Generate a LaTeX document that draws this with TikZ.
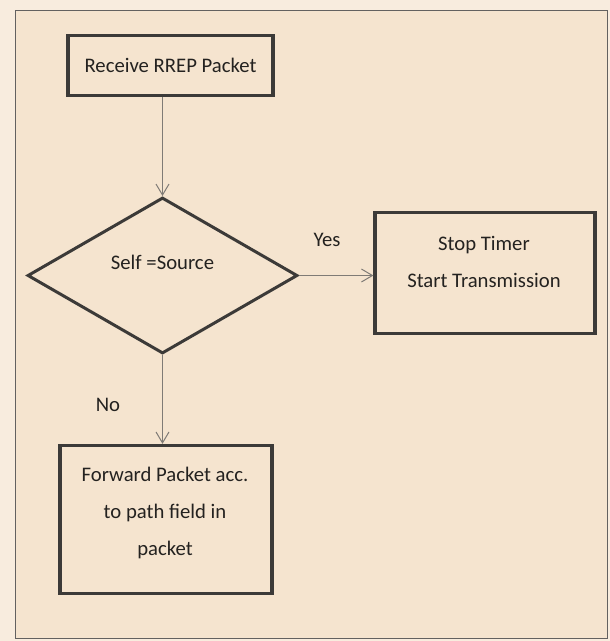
\documentclass[tikz,border=0pt]{standalone}
\usepackage{fontspec}
\setmainfont{Carlito}
\usetikzlibrary{shapes.geometric,arrows.meta}
\definecolor{bg}{HTML}{F5E4CF}
\definecolor{outerbg}{HTML}{F8ECDE}
\definecolor{boxline}{HTML}{3C3A38}
\definecolor{arrline}{HTML}{7F7B76}
\definecolor{txt}{HTML}{242220}
\tikzset{
  procbox/.style={draw=boxline, line width=3.2pt, fill=bg, align=center, text=txt, font=\fontsize{20.7}{37}\selectfont, inner sep=0pt},
  decision/.style={diamond, draw=boxline, line width=3pt, fill=bg, inner sep=0pt, minimum width=270pt, minimum height=156pt, aspect=1.73},
  flow/.style={draw=arrline, line width=1pt, -{Straight Barb[length=11pt,width=13pt,line width=1pt]}},
  lbl/.style={text=txt, font=\fontsize{20.7}{24}\selectfont, inner sep=0pt}
}
\begin{document}
\begin{tikzpicture}[x=1pt,y=-1pt]
\useasboundingbox (0,0) rectangle (610,641);
\fill[outerbg] (0,0) rectangle (610,641);
\draw[draw=boxline!80, line width=1pt, fill=bg] (15.5,10) rectangle (607,638);
\node[procbox, minimum width=205pt, minimum height=60pt] (recv) at (170.5,65.5) {Receive RREP Packet};
\node[decision] (dec) at (162.5,275.5) {};
\node[lbl] (dectxt) at (162.5,262.5) {Self =Source};
\node[procbox, minimum width=220pt, minimum height=121pt] (stop) at (485,273) {};
\node[lbl, align=center, font=\fontsize{20.7}{37}\selectfont] (stoptxt) at (484,261.5) {Stop Timer\\Start Transmission};
\node[procbox, minimum width=212pt, minimum height=148pt] (fwd) at (166,519.5) {};
\node[lbl, align=center, font=\fontsize{20.7}{37}\selectfont] (fwdtxt) at (165,513) {Forward Packet acc.\\to path field in\\packet};
\node[lbl] (yes) at (327,240) {Yes};
\node[lbl] (no) at (108,405) {No};
\draw[flow] (recv.south -| dec.north) -- (dec.north);
\draw[flow] (dec.east) -- (stop.west |- dec.east);
\draw[flow] (dec.south) -- (fwd.north -| dec.south);
\end{tikzpicture}
\end{document}
